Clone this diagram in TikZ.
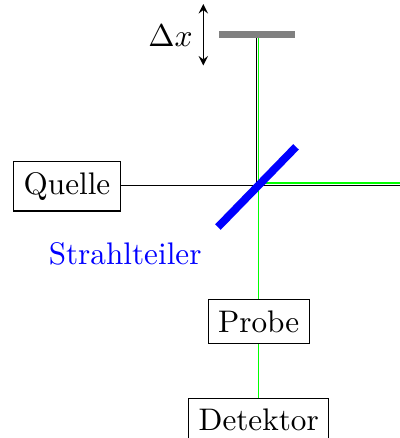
\documentclass[tikz,border=0pt]{standalone}
\usepackage{amsmath}
\usepackage{xcolor}
\usetikzlibrary{shapes, arrows, positioning, calc}
\tikzset{
  box/.style={draw, rectangle, inner ysep=3.6pt},
  laser/.style={green},
  mirror/.style={line width=2.4pt, gray},
  splitter/.style={line width=2.6pt, blue}
}

\begin{document}
\begin{tikzpicture}[>=stealth, every node/.append style={font=\fontsize{10.4}{13}\selectfont}]
\useasboundingbox (-3.031,-2.96) rectangle (1.655,2.171);
\node[box] (quelle) at (-2.246,-0.01) {Quelle};
\node[box] (probe) at (0,-1.597) {Probe};
\node[box] (detektor) at (0,-2.75) {Detektor};
\node[blue] (strahlteiler) at (-1.565,-0.805) {Strahlteiler};
\node[scale=1.05] (delta) at (-1.035,1.749) {$\Delta x$};

\coordinate (split) at (0,0);
\coordinate (spiegel) at (0,1.767);
\coordinate (ende) at (1.655,0);
\coordinate (pfeiloben) at (-0.649,2.124);
\coordinate (pfeilunten) at (-0.649,1.404);

% Strahlengang
\draw (quelle.east |- split) -- (split) -- (ende);
\draw ([xshift=-0.67pt]split) -- ([xshift=-0.67pt]spiegel);
\draw[laser] (spiegel) -- (probe);
\draw[laser] ([yshift=0.77pt]split) -- ([yshift=0.77pt]ende);
\draw[laser] (probe) -- (detektor);

\draw[mirror] (-0.465,1.767) -- (0.425,1.767);
\draw[splitter] (-0.478,-0.489) -- (0.437,0.451);
\draw[<->] (pfeiloben) -- (pfeilunten);
\end{tikzpicture}
\end{document}
